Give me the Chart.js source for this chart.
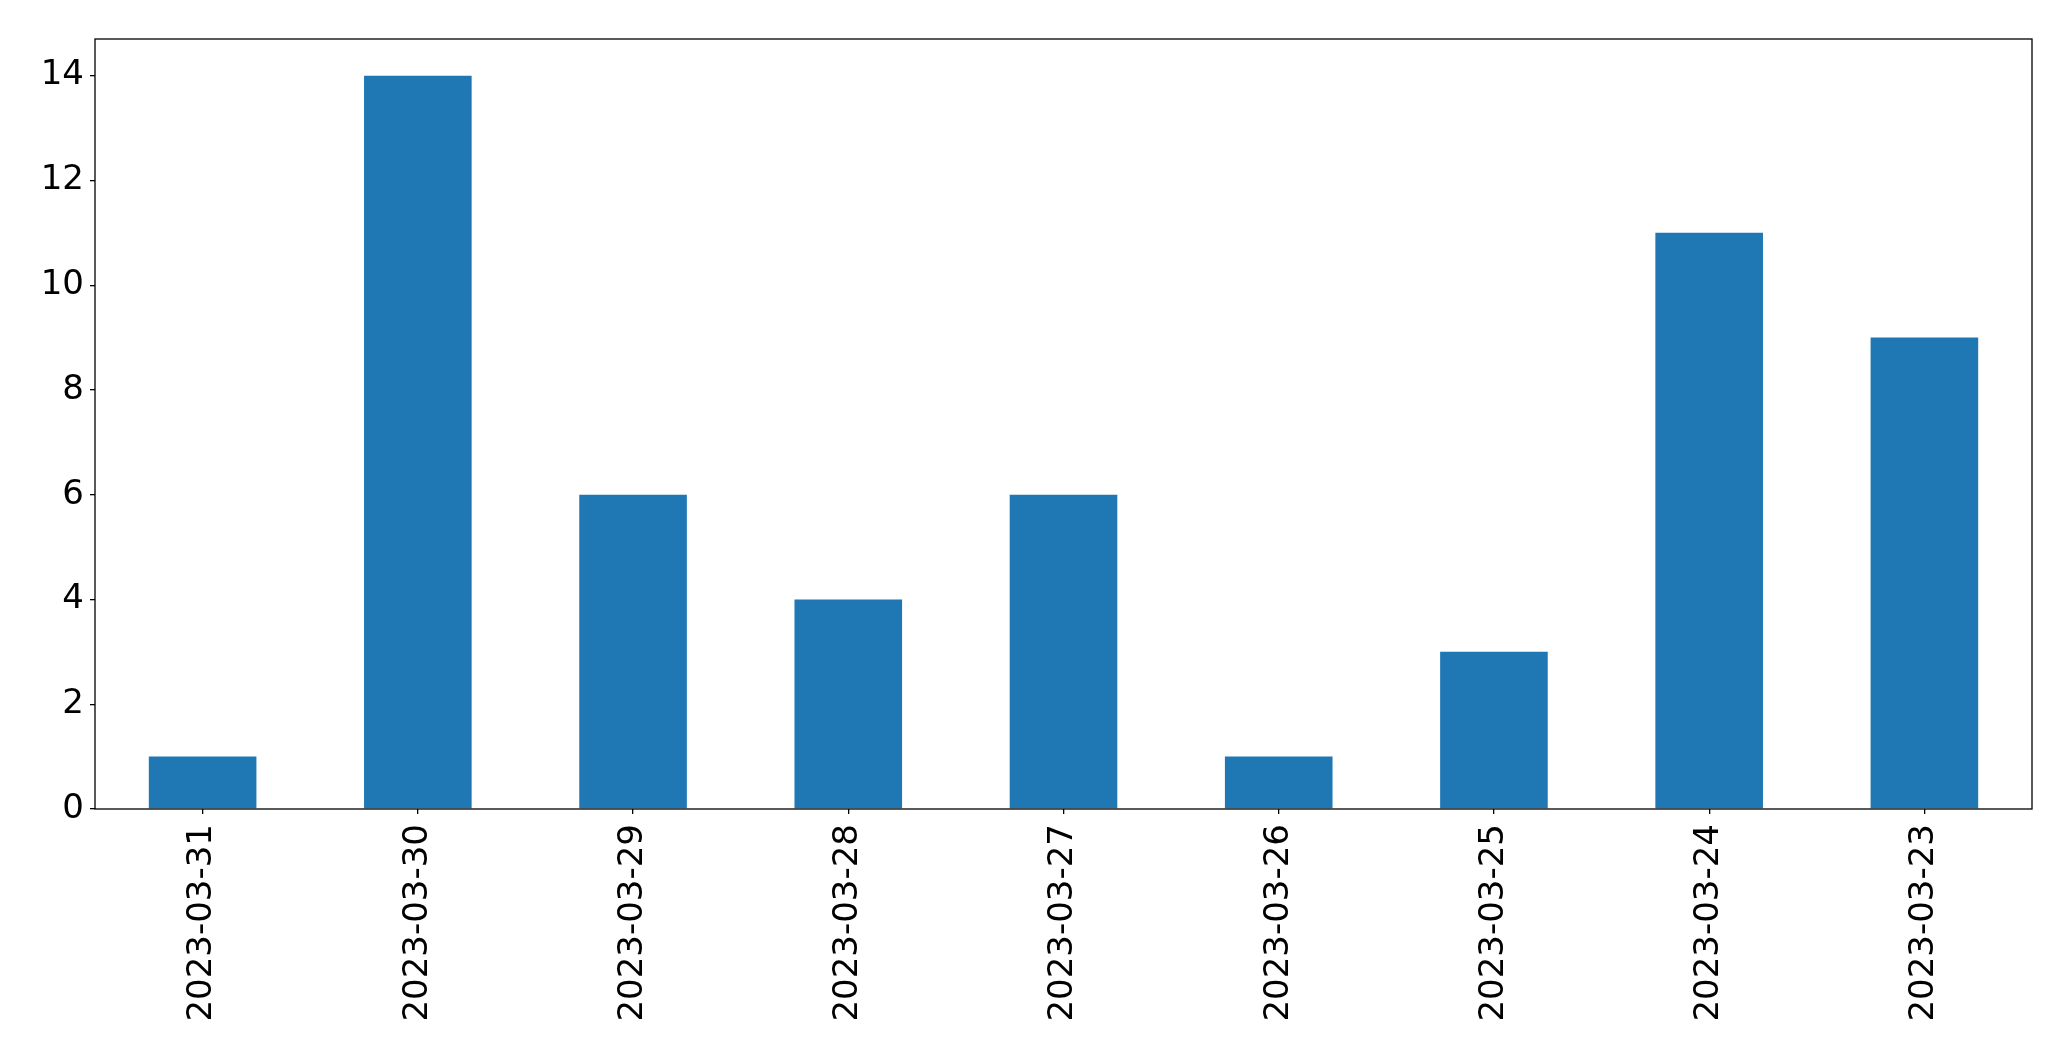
<!DOCTYPE html>
<html>
<head>
<meta charset="utf-8">
<script src="https://cdn.jsdelivr.net/npm/chart.js@4.4.0/dist/chart.umd.min.js"></script>
<style>
  html, body { margin: 0; padding: 0; background: #fff; }
  #wrap { width: 2071px; height: 1061px; }
</style>
</head>
<body>
<div id="wrap"><canvas id="chart" width="2071" height="1061"></canvas></div>
<script>
const dates = ['2023-03-31', '2023-03-30', '2023-03-29', '2023-03-28', '2023-03-27',
               '2023-03-26', '2023-03-25', '2023-03-24', '2023-03-23'];
const counts = [1, 14, 6, 4, 6, 1, 3, 11, 9];
const yTicks = [0, 2, 4, 6, 8, 10, 12, 14];

// draws the box round the plot area, like matplotlib's spines
const frame = {
    id: 'frame',
    afterDraw: (chart) => {
        const { ctx, chartArea } = chart;
        ctx.save();
        ctx.strokeStyle = '#000';
        ctx.lineWidth = 1.3;
        ctx.strokeRect(chartArea.left, chartArea.top,
            chartArea.right - chartArea.left, chartArea.bottom - chartArea.top);
        ctx.restore();
    }
};

const tickFont = { family: 'DejaVu Sans', size: 34 };

new Chart(document.getElementById('chart').getContext('2d'), {
    type: 'bar',
    data: {
        labels: dates,
        datasets: [{
            data: counts,
            backgroundColor: '#1f77b4',
            borderWidth: 0,
            categoryPercentage: 0.5,
            barPercentage: 1.0
        }]
    },
    options: {
        responsive: false,
        animation: false,
        layout: { padding: { top: 39, right: 39, left: 0, bottom: 0 } },
        plugins: {
            legend: { display: false },
            tooltip: { enabled: false }
        },
        scales: {
            x: {
                grid: { display: true, offset: false, drawOnChartArea: false, drawTicks: true, tickLength: 5, color: '#000', lineWidth: 1.3 },
                border: { display: false },
                ticks: { font: tickFont, color: '#000', minRotation: 90, maxRotation: 90, padding: 10, autoSkip: false },
                afterFit: (scale) => { scale.height = 252; }
            },
            y: {
                min: 0,
                max: 14.7,
                grid: { display: true, drawOnChartArea: false, drawTicks: true, tickLength: 5, color: '#000', lineWidth: 1.3 },
                border: { display: false },
                ticks: { font: tickFont, color: '#000', padding: 6 },
                afterBuildTicks: (scale) => {
                    scale.ticks = yTicks.map(v => ({ value: v }));
                },
                afterFit: (scale) => { scale.width = 95; }
            }
        }
    },
    plugins: [frame]
});
</script>
</body>
</html>
